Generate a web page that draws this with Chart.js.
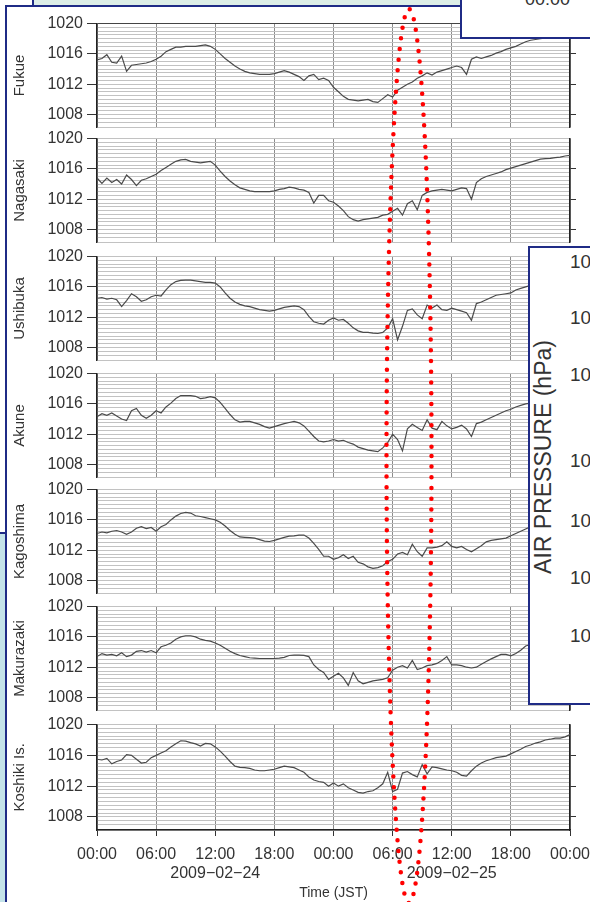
<!DOCTYPE html>
<html>
<head>
<meta charset="utf-8">
<script src="https://cdn.jsdelivr.net/npm/chart.js@4/dist/chart.umd.min.js"></script>
<style>
  html, body { margin:0; padding:0; background:#fff; width:590px; height:902px; overflow:hidden; position:relative;
    font-family:'Liberation Sans', Arial, sans-serif; }
  .abs { position:absolute; }
  canvas.panel { position:absolute; left:0; z-index:2; }
  #overlay { position:absolute; left:0; top:0; z-index:10; pointer-events:none; }
  .box { position:absolute; background:#fff; border:2px solid #1f2b86; z-index:5; }
  .txt { position:absolute; z-index:6; color:#333; white-space:nowrap; }
</style>
</head>
<body>
<!-- slide decorations -->
<div class="abs" style="left:32px;top:0;width:570px;height:5px;background:#ddeee7;border-left:2px solid #1f2b86;z-index:1"></div>
<div class="abs" style="left:5px;top:5px;width:600px;height:900px;border-left:2px solid #1f2b86;border-top:2px solid #1f2b86;z-index:1"></div>
<div class="abs" style="left:-6px;top:532px;width:9px;height:400px;background:#c4e3e9;border:2px solid #1f2b86;z-index:1"></div>

<div id="charts"></div>

<div class="box" style="left:460px;top:-2px;width:140px;height:37px;"></div>
<div class="txt" style="left:525px;top:-10px;font-size:18px;line-height:18px;">00:00</div>

<div class="box" style="left:528px;top:246px;width:100px;height:455px;"></div>
<div id="rightLabels"></div>
<div class="txt" style="left:543px;top:457px;font-size:23px;line-height:26px;transform:translate(-50%,-50%) rotate(-90deg);">AIR PRESSURE (hPa)</div>

<canvas id="overlay" width="590" height="902"></canvas>

<script>
// ---------------- data ----------------
const hours = [0,0.5,1,1.5,2,2.5,3,3.5,4,4.5,5,5.5,6,6.5,7,7.5,8,8.5,9,9.5,10,10.5,11,11.5,
  12,12.5,13,13.5,14,14.5,15,15.5,16,16.5,17,17.5,18,18.5,19,19.5,20,20.5,21,21.5,22,22.5,23,23.5,
  24,24.5,25,25.5,26,26.5,27,27.5,28,28.5,29,29.5,30,30.5,31,31.5,32,32.5,33,33.5,34,34.5,35,35.5,
  36,36.5,37,37.5,38,38.5,39,39.5,40,40.5,41,41.5,42,42.5,43,43.5,44,44.5,45,45.5,46,46.5,47,47.5,48];

const stationNames = ['Fukue','Nagasaki','Ushibuka','Akune','Kagoshima','Makurazaki','Koshiki Is.'];

const fukue = [
  1015.2,1015.4,1015.9,1014.9,1014.8,1015.7,1013.7,1014.5,1014.6,1014.7,1014.8,1015.0,1015.3,1015.7,1016.3,1016.6,1016.9,1016.9,1017.0,1017.0,1017.0,1017.1,1017.2,1017.0,
  1016.6,1016.0,1015.4,1014.9,1014.4,1014.0,1013.7,1013.5,1013.4,1013.3,1013.3,1013.3,1013.4,1013.6,1013.8,1013.6,1013.3,1013.0,1012.5,1013.1,1013.3,1012.6,1012.8,1012.5,
  1011.6,1011.0,1010.4,1010.0,1009.9,1009.8,1009.9,1010.0,1009.7,1009.6,1010.1,1010.6,1010.3,1011.2,1011.6,1012.0,1012.3,1012.8,1013.1,1013.5,1013.2,1013.6,1013.8,1014.0,
  1014.2,1014.4,1014.2,1013.3,1015.3,1015.6,1015.4,1015.6,1015.8,1016.1,1016.3,1016.6,1016.8,1017.0,1017.3,1017.6,1017.8,1017.9,1018.0,1018.1,1018.2,1018.3,1018.4,1018.5,
  1018.6];
const nagasaki = [
  1014.8,1014.1,1014.8,1014.2,1014.6,1014.0,1015.2,1014.6,1013.8,1014.5,1014.7,1015.0,1015.3,1015.8,1016.2,1016.6,1017.0,1017.2,1017.25,1017.0,1016.9,1016.8,1016.9,1017.0,
  1016.5,1015.7,1015.0,1014.4,1013.9,1013.5,1013.3,1013.1,1013.0,1013.0,1013.0,1013.0,1013.1,1013.3,1013.4,1013.6,1013.5,1013.3,1013.2,1012.9,1011.5,1012.5,1012.5,1011.8,
  1011.6,1011.1,1010.5,1009.7,1009.3,1009.1,1009.3,1009.4,1009.5,1009.6,1009.9,1010.0,1010.4,1010.8,1009.9,1011.4,1011.8,1010.6,1012.5,1012.9,1013.1,1013.2,1013.3,1013.2,
  1013.1,1013.3,1013.5,1013.4,1012.0,1014.2,1014.7,1015.0,1015.2,1015.4,1015.6,1015.9,1016.1,1016.3,1016.5,1016.7,1016.9,1017.1,1017.3,1017.35,1017.4,1017.5,1017.55,1017.7,
  1017.8];
const ushibuka = [
  1014.5,1014.6,1014.4,1014.5,1014.3,1013.4,1014.2,1015.1,1014.7,1014.1,1014.3,1014.7,1014.9,1014.8,1015.6,1016.3,1016.7,1016.85,1016.9,1016.9,1016.8,1016.7,1016.6,1016.6,
  1016.5,1016.0,1015.2,1014.5,1014.0,1013.7,1013.5,1013.4,1013.2,1013.0,1012.9,1012.8,1012.9,1013.1,1013.3,1013.4,1013.5,1013.4,1013.0,1012.1,1011.4,1011.2,1011.1,1011.6,
  1011.9,1011.6,1011.7,1011.2,1010.6,1010.2,1010.0,1010.0,1009.9,1009.85,1010.0,1010.6,1011.8,1009.0,1010.8,1012.9,1013.1,1012.3,1011.8,1013.6,1013.2,1013.6,1013.0,1012.9,
  1013.2,1013.0,1012.8,1012.6,1011.6,1013.8,1014.0,1014.3,1014.6,1014.9,1015.0,1015.1,1015.2,1015.6,1015.8,1016.0,1016.2,1016.3,1016.4,1016.5,1016.6,1016.7,1016.8,1016.9,
  1017.0];
const akune = [
  1014.3,1014.7,1014.5,1014.8,1014.4,1014.0,1013.8,1015.1,1015.4,1014.5,1014.1,1014.5,1015.1,1014.8,1015.6,1016.1,1016.7,1017.1,1017.1,1017.1,1017.0,1016.7,1016.8,1016.95,
  1016.8,1016.2,1015.4,1014.6,1013.9,1013.6,1013.7,1013.7,1013.5,1013.3,1013.0,1012.8,1013.0,1013.2,1013.4,1013.55,1013.7,1013.5,1013.1,1012.4,1011.7,1011.1,1011.0,1011.1,
  1011.3,1011.1,1011.2,1010.9,1010.7,1010.3,1010.1,1009.9,1009.8,1009.7,1010.2,1010.9,1012.0,1011.3,1009.8,1012.7,1013.3,1012.9,1012.5,1013.9,1012.8,1012.6,1013.7,1013.1,
  1012.7,1012.9,1013.2,1012.7,1011.7,1013.4,1013.6,1013.9,1014.2,1014.5,1014.8,1015.1,1015.3,1015.6,1015.8,1016.0,1016.1,1016.2,1016.3,1016.4,1016.5,1016.6,1016.7,1016.8,
  1016.9];
const kagoshima = [
  1014.2,1014.4,1014.3,1014.5,1014.6,1014.4,1014.1,1014.4,1014.9,1015.1,1014.85,1015.0,1014.5,1015.1,1015.4,1016.0,1016.5,1016.85,1017.0,1016.9,1016.55,1016.45,1016.3,1016.15,
  1016.0,1015.7,1015.2,1014.6,1014.1,1013.75,1013.7,1013.65,1013.6,1013.4,1013.2,1013.15,1013.3,1013.5,1013.7,1013.85,1013.9,1014.0,1014.0,1013.6,1012.9,1012.1,1011.2,1011.2,
  1010.8,1011.0,1011.4,1010.9,1011.2,1010.4,1010.2,1009.8,1009.6,1009.7,1009.95,1010.5,1010.8,1011.5,1011.7,1011.4,1012.8,1011.8,1011.2,1012.3,1012.3,1012.4,1012.6,1013.1,
  1012.5,1012.3,1012.5,1012.1,1011.8,1012.2,1012.6,1013.1,1013.3,1013.4,1013.5,1013.6,1013.9,1014.2,1014.5,1014.8,1015.1,1015.3,1015.5,1015.7,1015.9,1016.0,1016.1,1016.2,
  1016.3];
const makurazaki = [
  1013.4,1013.8,1013.6,1013.7,1013.5,1013.9,1013.4,1013.6,1014.1,1014.2,1014.0,1014.2,1013.9,1014.7,1014.9,1015.2,1015.7,1016.0,1016.15,1016.15,1016.0,1015.7,1015.55,1015.45,
  1015.2,1014.9,1014.5,1014.1,1013.8,1013.55,1013.4,1013.25,1013.2,1013.15,1013.15,1013.15,1013.15,1013.2,1013.3,1013.55,1013.6,1013.6,1013.55,1013.4,1012.3,1011.7,1011.3,1010.4,
  1010.8,1011.2,1010.6,1009.6,1011.3,1010.2,1009.8,1010.0,1010.2,1010.3,1010.4,1010.6,1011.6,1012.0,1012.2,1011.9,1012.9,1011.7,1011.9,1012.2,1012.3,1012.5,1012.9,1013.4,
  1012.3,1012.3,1012.2,1012.0,1011.9,1012.0,1012.4,1012.75,1013.1,1013.4,1013.7,1013.7,1013.5,1013.8,1014.25,1014.8,1015.0,1015.1,1015.2,1015.3,1015.4,1015.5,1015.6,1015.7,
  1015.8];
const koshiki = [
  1015.5,1015.4,1015.6,1014.9,1015.2,1015.4,1016.1,1016.0,1015.5,1015.0,1015.1,1015.7,1016.0,1016.3,1016.6,1017.1,1017.5,1017.9,1017.85,1017.65,1017.5,1017.2,1017.55,1017.5,
  1017.1,1016.55,1015.9,1015.2,1014.6,1014.45,1014.4,1014.3,1014.1,1014.0,1014.0,1014.1,1014.2,1014.4,1014.6,1014.5,1014.4,1014.1,1013.8,1013.2,1012.8,1012.6,1012.5,1012.0,
  1012.4,1012.0,1012.3,1011.8,1011.5,1011.2,1011.1,1011.3,1011.4,1011.8,1012.3,1013.8,1011.3,1011.6,1013.7,1013.9,1013.5,1013.2,1014.8,1013.6,1014.5,1014.4,1014.25,1014.1,
  1014.0,1013.8,1013.4,1013.3,1014.0,1014.6,1015.0,1015.3,1015.5,1015.7,1015.8,1015.9,1016.2,1016.5,1016.8,1017.15,1017.35,1017.6,1017.75,1018.0,1018.1,1018.25,1018.25,1018.4,
  1018.7];

const stationSeries = [fukue, nagasaki, ushibuka, akune, kagoshima, makurazaki, koshiki];

const yTickLabels = [1008, 1012, 1016, 1020];
const xTickValues = [0, 6, 12, 18, 24, 30, 36, 42, 48];
const xTickLabels = ['00:00','06:00','12:00','18:00','00:00','06:00','12:00','18:00','00:00'];
const xDateLabels = ['', '', '2009\u221202\u221224', '', '', '', '2009\u221202\u221225', '', ''];
const xTitle = 'Time (JST)';
const rightBoxLabels = ['10','10','10','10','10','10','10'];

// ---------------- layout ----------------
const FONT = "'Liberation Sans', Arial, Helvetica, sans-serif";
const Y_MIN = 1006.3, Y_MAX = 1020;
const PANEL_TOPS = [22, 137, 255, 372, 488, 605, 723];
const PLOT_H = 107, PLOT_LEFT = 97, PLOT_RIGHT = 570, PAD = 12, PAGE_W = 590, PAGE_H = 902;
const rightLabelY = [262, 318, 375, 461, 521, 578, 636];

Chart.defaults.font.family = FONT;
Chart.defaults.color = '#333';

const isLabeled = v => yTickLabels.some(l => Math.abs(l - v) < 1e-6);

function makePanel(i) {
  const isLast = i === stationSeries.length - 1;
  const top = PANEL_TOPS[i] - PAD;
  const height = isLast ? (PAGE_H - top) : (PAD + PLOT_H + PAD);
  const canvas = document.createElement('canvas');
  canvas.className = 'panel';
  canvas.width = PAGE_W; canvas.height = height;
  canvas.style.top = top + 'px';
  canvas.style.width = PAGE_W + 'px'; canvas.style.height = height + 'px';
  document.getElementById('charts').appendChild(canvas);

  new Chart(canvas, {
    type: 'line',
    data: {
      datasets: [{
        data: hours.map((h, k) => ({ x: h, y: stationSeries[i][k] })),
        borderColor: '#4a4a4a', borderWidth: 1.2, pointRadius: 0, tension: 0, fill: false
      }]
    },
    options: {
      responsive: false, animation: false, devicePixelRatio: 1,
      layout: { padding: { top: PAD, bottom: isLast ? 0 : PAD, left: 0, right: 0 } },
      plugins: { legend: { display: false }, tooltip: { enabled: false } },
      scales: {
        x: {
          type: 'linear', min: 0, max: 48,
          ticks: {
            display: isLast, stepSize: 6, autoSkip: false, maxRotation: 0, padding: 9,
            font: { size: 16 }, color: '#333',
            callback: v => {
              const k = xTickValues.indexOf(v);
              if (k < 0) return '';
              return xDateLabels[k] ? [xTickLabels[k], xDateLabels[k]] : xTickLabels[k];
            }
          },
          grid: { color: '#8c8c8c', lineWidth: 1, drawTicks: isLast, tickLength: 6, tickColor: '#333' },
          border: { display: isLast, color: '#222', width: 1.5 },
          title: { display: isLast, text: xTitle, font: { size: 14 }, color: '#333', padding: { top: 0, bottom: 0 } },
          afterFit: s => {
            s.height = isLast ? (height - PAD - PLOT_H) : 0;
            s.paddingLeft = 0; s.paddingRight = 0;
          }
        },
        y: {
          type: 'linear', position: 'left', min: Y_MIN, max: Y_MAX,
          ticks: {
            stepSize: 0.5, autoSkip: false, padding: 4, font: { size: 16 }, color: '#333',
            callback: v => isLabeled(v) ? String(v) : ''
          },
          grid: {
            color: ctx => (i === 0 && ctx.tick && Math.abs(ctx.tick.value - Y_MAX) < 1e-6) ? '#444' : '#c2c2c2',
            lineWidth: 1, drawTicks: true, tickLength: 10,
            tickColor: ctx => (ctx.tick && isLabeled(ctx.tick.value)) ? '#333' : 'rgba(0,0,0,0)'
          },
          border: { color: '#222', width: 1.5 },
          title: { display: true, text: stationNames[i], font: { size: 15 }, color: '#333', padding: { top: 11, bottom: 0 } },
          afterFit: s => { s.width = PLOT_LEFT; }
        },
        y2: {
          type: 'linear', position: 'right', min: Y_MIN, max: Y_MAX,
          ticks: { display: false, stepSize: 0.5, autoSkip: false },
          grid: {
            drawOnChartArea: false, drawTicks: true, tickLength: 6,
            tickColor: ctx => (ctx.tick && isLabeled(ctx.tick.value) && ctx.tick.value < Y_MAX) ? '#333' : 'rgba(0,0,0,0)'
          },
          border: { color: '#222', width: 1.5 },
          afterFit: s => { s.width = PAGE_W - PLOT_RIGHT; }
        }
      }
    }
  });
}

stationSeries.forEach((_, i) => makePanel(i));

// right-box partial labels
const rl = document.getElementById('rightLabels');
rightBoxLabels.forEach((t, k) => {
  const d = document.createElement('div');
  d.className = 'txt';
  d.style.left = '570px';
  d.style.top = (rightLabelY[k] - 10) + 'px';
  d.style.fontSize = '19px';
  d.style.lineHeight = '20px';
  d.textContent = t;
  rl.appendChild(d);
});

// red dotted ellipse annotation
const oc = document.getElementById('overlay').getContext('2d');
oc.strokeStyle = '#ff0000';
oc.lineWidth = 4.5;
oc.lineCap = 'round';
oc.setLineDash([0, 10.7]);
oc.beginPath();
oc.ellipse(409, 456, 22.5, 447, 0, 0, Math.PI * 2);
oc.stroke();
</script>
</body>
</html>
